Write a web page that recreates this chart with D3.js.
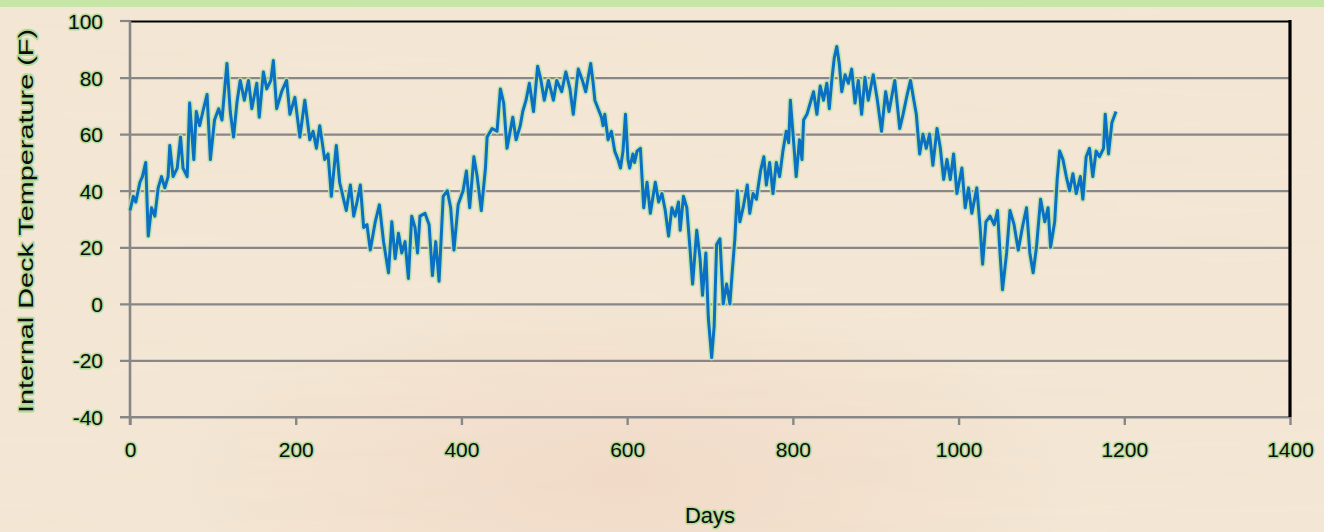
<!DOCTYPE html>
<html>
<head>
<meta charset="utf-8">
<script src="https://cdn.jsdelivr.net/npm/d3@7"></script>
<style>
  html, body { margin: 0; padding: 0; background: #f4e6d3; }
  svg { display: block; }
  .tick-label, .axis-title {
    font-family: "Liberation Sans", "DejaVu Sans", sans-serif;
    fill: #0d0d0d;
    paint-order: stroke;
    stroke: #b0da96;
    stroke-width: 3px;
    stroke-linejoin: round;
  }
</style>
</head>
<body>
<svg id="chart" width="1324" height="532"></svg>
<script>
// Internal deck temperature (F) by day
const days = [
  0, 4, 7, 12, 15, 19, 22, 26, 30, 34, 38, 42, 46, 48, 52, 57, 61, 64, 69, 72,
  77, 80, 84, 88, 93, 97, 102, 107, 111, 117, 121, 125, 129, 133, 138, 143, 147, 153, 156, 161,
  165, 170, 173, 177, 183, 189, 193, 199, 205, 211, 217, 221, 225, 229, 235, 239, 243, 249, 253, 261,
  266, 270, 274, 278, 282, 286, 290, 296, 301, 306, 312, 316, 320, 324, 328, 332, 336, 340, 344, 347,
  350, 356, 361, 365, 369, 373, 378, 383, 387, 391, 396, 402, 406, 410, 415, 419, 424, 429, 431, 437,
  443, 447, 451, 455, 462, 466, 471, 474, 478, 482, 487, 492, 496, 500, 505, 511, 515, 521, 526, 531,
  535, 541, 546, 550, 556, 559, 561, 565, 569, 571, 573, 577, 581, 585, 589, 592, 595, 598, 601, 603,
  607, 609, 612, 616, 620, 624, 628, 634, 638, 642, 646, 650, 654, 658, 662, 664, 668, 672, 676, 679,
  684, 688, 691, 695, 698, 702, 705, 708, 712, 716, 720, 724, 727, 730, 733, 736, 740, 745, 748, 752,
  756, 761, 765, 768, 772, 776, 780, 784, 788, 792, 795, 797, 801, 804, 808, 811, 813, 817, 821, 825,
  829, 833, 837, 841, 844, 847, 850, 853, 856, 859, 863, 867, 871, 875, 879, 883, 887, 891, 897, 902,
  907, 912, 916, 923, 929, 933, 938, 942, 946, 949, 953, 957, 961, 965, 969, 974, 978, 982, 986, 990,
  994, 998, 1004, 1008, 1012, 1016, 1022, 1026, 1029, 1033, 1038, 1043, 1047, 1050, 1053, 1058, 1062, 1067, 1072, 1077,
  1082, 1086, 1090, 1094, 1099, 1104, 1108, 1111, 1116, 1119, 1122, 1126, 1130, 1134, 1138, 1142, 1147, 1150, 1154, 1158,
  1162, 1166, 1170, 1175, 1177, 1181, 1185, 1190
];
const temps = [
  33, 38, 36, 43, 45, 50, 24, 34, 31, 41, 45, 41, 45, 56, 45, 48, 59, 48, 45, 71,
  51, 68, 63, 68, 74, 51, 65, 69, 65, 85, 68, 59, 71, 79, 72, 79, 69, 78, 66, 82,
  76, 79, 86, 69, 75, 79, 67, 73, 59, 72, 58, 61, 55, 63, 51, 53, 38, 56, 43, 33,
  42, 31, 36, 42, 27, 28, 19, 29, 35, 22, 11, 29, 16, 25, 18, 22, 9, 31, 27, 18,
  31, 32, 28, 10, 22, 8, 38, 40, 34, 19, 35, 40, 47, 34, 52, 45, 33, 48, 59, 62,
  61, 76, 71, 55, 66, 58, 63, 68, 72, 78, 68, 84, 79, 72, 79, 72, 79, 75, 82, 76,
  67, 83, 79, 75, 85, 78, 72, 69, 66, 63, 67, 58, 61, 54, 51, 48, 54, 67, 51, 48,
  53, 50, 54, 55, 34, 43, 32, 43, 36, 39, 33, 24, 34, 31, 36, 26, 38, 34, 19, 7,
  26, 16, 3, 18, -5, -19, -8, 21, 23, 0, 7, 0, 12, 23, 40, 29, 34, 42, 32, 39,
  37, 47, 52, 42, 50, 39, 50, 45, 54, 61, 57, 72, 57, 45, 58, 51, 65, 67, 71, 75,
  67, 77, 72, 78, 69, 79, 87, 91, 85, 75, 81, 78, 83, 71, 79, 67, 80, 72, 81, 72,
  61, 75, 68, 79, 62, 67, 74, 79, 72, 67, 53, 60, 55, 60, 49, 62, 55, 44, 51, 44,
  53, 39, 48, 34, 41, 32, 41, 27, 14, 29, 31, 28, 33, 18, 5, 18, 33, 28, 19, 27,
  34, 18, 11, 20, 37, 29, 34, 20, 29, 44, 54, 51, 45, 40, 46, 39, 45, 37, 52, 55,
  45, 54, 52, 55, 67, 53, 64, 68
];
const yTicks = [-40, -20, 0, 20, 40, 60, 80, 100];
const xTicks = [0, 200, 400, 600, 800, 1000, 1200, 1400];
const yTitle = "Internal Deck Temperature (F)";
const xTitle = "Days";

const svg = d3.select("#chart");
const W = 1324, H = 532;
const plot = { left: 130, right: 1290, top: 21, bottom: 417 };
const plain = d => String(d);

// Parchment backdrop with soft horizontal grain
const defs = svg.append("defs");
const grain = defs.append("filter").attr("id", "grain")
  .attr("x", 0).attr("y", 0).attr("width", "100%").attr("height", "100%");
grain.append("feTurbulence").attr("type", "fractalNoise")
  .attr("baseFrequency", "0.004 0.06").attr("numOctaves", 3).attr("seed", 7).attr("result", "n");
grain.append("feColorMatrix").attr("in", "n").attr("type", "matrix")
  .attr("values", "0 0 0 0 0.85  0 0 0 0 0.72  0 0 0 0 0.58  0 0 0 0.22 -0.02");
const warm = defs.append("radialGradient").attr("id", "warm")
  .attr("cx", "0.47").attr("cy", "0.9").attr("r", "0.35");
warm.append("stop").attr("offset", "0").attr("stop-color", "#f0d4c2").attr("stop-opacity", 0.7);
warm.append("stop").attr("offset", "1").attr("stop-color", "#f0d4c2").attr("stop-opacity", 0);

svg.append("rect").attr("width", W).attr("height", H).attr("fill", "#f4e7d5");
svg.append("rect").attr("width", W).attr("height", H).attr("fill", "url(#warm)");
svg.append("rect").attr("width", W).attr("height", H).attr("filter", "url(#grain)");
// light green band across the top
svg.append("rect").attr("width", W).attr("height", 7).attr("fill", "#c6e6a8");

const x = d3.scaleLinear().domain([0, 1400]).range([plot.left, plot.right]);
const y = d3.scaleLinear().domain([-40, 100]).range([plot.bottom, plot.top]);

// Horizontal gridlines with their tick stubs
const gridAxis = d3.axisLeft(y).tickValues(yTicks).tickSize(-(plot.right - plot.left)).tickFormat("");
const grid = svg.append("g").attr("transform", `translate(${plot.left},0)`).call(gridAxis);
grid.select(".domain").remove();
grid.selectAll(".tick line")
  .attr("x1", -10)
  .attr("stroke", d => d === 100 ? "#000" : "#878787")
  .attr("stroke-width", 2.2);
grid.selectAll(".tick").filter(d => d === 100).select("line").attr("x1", 0);
svg.append("line")
  .attr("x1", plot.left - 10).attr("x2", plot.left)
  .attr("y1", y(100)).attr("y2", y(100))
  .attr("stroke", "#878787").attr("stroke-width", 2.2);

// Y axis
const yAxis = d3.axisLeft(y).tickValues(yTicks).tickFormat(plain).tickSize(0).tickPadding(27);
const yg = svg.append("g").attr("transform", `translate(${plot.left},0)`).call(yAxis);
yg.select(".domain").attr("stroke", "#878787").attr("stroke-width", 2.6)
  .attr("d", `M0,${plot.top}V${plot.bottom + 8}`);
yg.selectAll(".tick text").attr("class", "tick-label").attr("font-size", 21).attr("dy", "0.36em");

// X axis
const xAxis = d3.axisBottom(x).tickValues(xTicks).tickFormat(plain).tickSize(8).tickPadding(17);
const xg = svg.append("g").attr("transform", `translate(0,${plot.bottom})`).call(xAxis);
xg.select(".domain").attr("stroke", "#878787").attr("stroke-width", 2.2)
  .attr("d", `M${plot.left - 10},0H${plot.right}`);
xg.selectAll(".tick line").attr("stroke", "#878787").attr("stroke-width", 2.4);
xg.selectAll(".tick text").attr("class", "tick-label").attr("font-size", 21).attr("dy", "0.7em");

// Right-hand frame edge
svg.append("line")
  .attr("x1", plot.right).attr("x2", plot.right)
  .attr("y1", plot.top - 1).attr("y2", plot.bottom)
  .attr("stroke", "#000").attr("stroke-width", 3.2);

// Temperature trace: pale green halo beneath a blue line
const series = days.map((d, i) => ({ day: d, temp: temps[i] }));
const line = d3.line().x(d => x(d.day)).y(d => y(d.temp));
svg.append("path").datum(series).attr("d", line)
  .attr("fill", "none").attr("stroke", "#b9e2a4").attr("stroke-width", 6)
  .attr("stroke-linejoin", "round").attr("opacity", 0.85);
svg.append("path").datum(series).attr("d", line)
  .attr("fill", "none").attr("stroke", "#0a70c4").attr("stroke-width", 3)
  .attr("stroke-linejoin", "round");

// Axis titles
svg.append("text").attr("class", "axis-title")
  .attr("transform", `translate(33,${(plot.top + plot.bottom) / 2 + 2}) rotate(-90)`)
  .attr("text-anchor", "middle").attr("font-size", 21)
  .attr("textLength", 384).attr("lengthAdjust", "spacingAndGlyphs")
  .text(yTitle);
svg.append("text").attr("class", "axis-title")
  .attr("x", 710).attr("y", 523)
  .attr("text-anchor", "middle").attr("font-size", 22)
  .text(xTitle);
</script>
</body>
</html>
